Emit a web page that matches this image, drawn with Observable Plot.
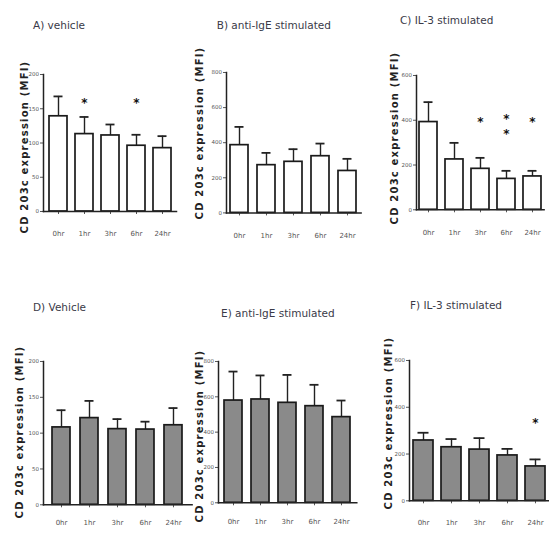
<!DOCTYPE html>
<html><head><meta charset="utf-8">
<script src="https://cdn.jsdelivr.net/npm/d3@7"></script>
<script src="https://cdn.jsdelivr.net/npm/@observablehq/plot@0.6"></script>
<style>
body{margin:0;background:#fff;}
#root{position:relative;width:549px;height:533px;overflow:hidden;font-family:"DejaVu Sans",sans-serif;background:#fff;}
.title{position:absolute;font-size:10.5px;color:#3a3a48;white-space:nowrap;transform:translateY(-50%);}
.ylab{position:absolute;font-size:10px;font-weight:bold;letter-spacing:1.2px;color:#222;white-space:nowrap;transform:translate(-50%,-50%) rotate(-90deg);}
.panel{position:absolute;}
</style></head><body><div id="root"></div>
<script>
const times = ["0hr","1hr","3hr","6hr","24hr"];
const yLabel = "CD 203c expression (MFI)";
const titles = ["A) vehicle","B) anti-IgE stimulated","C) IL-3 stimulated","D) Vehicle","E) anti-IgE stimulated","F) IL-3 stimulated"];

const meansA = [139,113,111,96,92.5];
const errsA  = [29,25,16,16,17.5];
const meansB = [386,272,291,323,239];
const errsB  = [104,70,72,72,69];
const meansC = [392,225,183,138,149];
const errsC  = [89,74,49,36,25];
const meansD = [108,121,105.6,105,111];
const errsD  = [24,24,14,11,24];
const meansE = [579,585,566,547,485];
const errsE  = [164,136,158,121,94];
const meansF = [258,229,219,194,147];
const errsF  = [33,35,49,28,30];

const starsA = [{time:"1hr", y:162},{time:"6hr", y:162}];
const starsB = [];
const starsC = [{time:"3hr", y:403},{time:"6hr", y:417},{time:"6hr", y:350},{time:"24hr", y:403}];
const starsD = [];
const starsE = [];
const starsF = [{time:"24hr", y:343}];

const ticksA = [0,50,100,150,200];
const ticksB = [0,200,400,600,800];
const ticksC = [0,200,400,600];
const ticksD = [0,50,100,150,200];
const ticksE = [0,200,400,600,800];
const ticksF = [0,200,400,600];

const panels = [
  {means:meansA, errs:errsA, stars:starsA, ticks:ticksA, max:200, fill:"#ffffff", axisX:42.7, xEnd:175.7, yTop:74, y0:211, pi:0.31, po:0.15, tp:17, title:[33,25], ylab:[24,147]},
  {means:meansB, errs:errsB, stars:starsB, ticks:ticksB, max:800, fill:"#ffffff", axisX:225.7, xEnd:360.3, yTop:72.3, y0:212.7, pi:0.315, po:0.12, tp:17, title:[216.7,25], ylab:[199,133]},
  {means:meansC, errs:errsC, stars:starsC, ticks:ticksC, max:600, fill:"#ffffff", axisX:415.7, xEnd:543.3, yTop:75, y0:209.3, pi:0.29, po:0.09, tp:17, title:[400,20], ylab:[394,138]},
  {means:meansD, errs:errsD, stars:starsD, ticks:ticksD, max:200, fill:"#8a8a8a", axisX:42.7, xEnd:191.3, yTop:360.7, y0:504, pi:0.35, po:0.29, tp:12.5, title:[33,307], ylab:[19,432]},
  {means:meansE, errs:errsE, stars:starsE, ticks:ticksE, max:800, fill:"#8a8a8a", axisX:217.7, xEnd:356, yTop:361, y0:502.3, pi:0.315, po:0.155, tp:13.5, title:[221,313], ylab:[199,436]},
  {means:meansF, errs:errsF, stars:starsF, ticks:ticksF, max:600, fill:"#8a8a8a", axisX:409, xEnd:550, yTop:360, y0:500.3, pi:0.27, po:0.15, tp:16, title:[410,305], ylab:[388,423]}
];

const root = document.getElementById("root");
panels.forEach((cfg, k) => {
  const data = times.map((t,i) => ({time:t, mean:cfg.means[i], top:cfg.means[i] + cfg.errs[i]}));
  const ML = 30, MR = 2, MT = 12, MB = 40;
  const w = cfg.xEnd - cfg.axisX + ML + MR;
  const h = cfg.y0 - cfg.yTop + MT + MB;
  const plot = Plot.plot({
    width: w, height: h, marginLeft: ML, marginRight: MR, marginTop: MT, marginBottom: MB,
    style: {background: "transparent", overflow: "visible", fontFamily: "DejaVu Sans, sans-serif"},
    x: {type: "band", domain: times, paddingInner: cfg.pi, paddingOuter: cfg.po, axis: null},
    y: {domain: [0, cfg.max], axis: null},
    marks: [
      Plot.ruleX(data, {x: "time", y1: "mean", y2: "top", stroke: "#222", strokeWidth: 1.4}),
      Plot.tickY(data, {x: "time", y: "top", stroke: "#222", strokeWidth: 1.8, inset: 4.5}),
      Plot.barY(data, {x: "time", y: "mean", fill: cfg.fill, stroke: "#1a1a1a", strokeWidth: 1.7}),
      Plot.text(cfg.stars, {x: "time", y: "y", text: () => "*", fontSize: 12, fontWeight: "bold", fill: "#111", dy: 3}),
      Plot.axisY({ticks: cfg.ticks, tickSize: 3, tickPadding: 1.5, fontSize: 5.5, color: "#555", label: null}),
      Plot.axisX({tickSize: 3, tickPadding: cfg.tp, fontSize: 7, color: "#555", label: null}),
      Plot.frame({anchor: "left", stroke: "#222", strokeWidth: 1.5}),
      Plot.frame({anchor: "bottom", stroke: "#222", strokeWidth: 1.5})
    ]
  });
  plot.classList.add("panel");
  plot.style.left = (cfg.axisX - ML) + "px";
  plot.style.top = (cfg.yTop - MT) + "px";
  root.appendChild(plot);

  const t = document.createElement("div");
  t.className = "title";
  t.textContent = titles[k];
  t.style.left = cfg.title[0] + "px";
  t.style.top = cfg.title[1] + "px";
  root.appendChild(t);

  const yl = document.createElement("div");
  yl.className = "ylab";
  yl.textContent = yLabel;
  yl.style.left = cfg.ylab[0] + "px";
  yl.style.top = cfg.ylab[1] + "px";
  root.appendChild(yl);
});
</script></body></html>
